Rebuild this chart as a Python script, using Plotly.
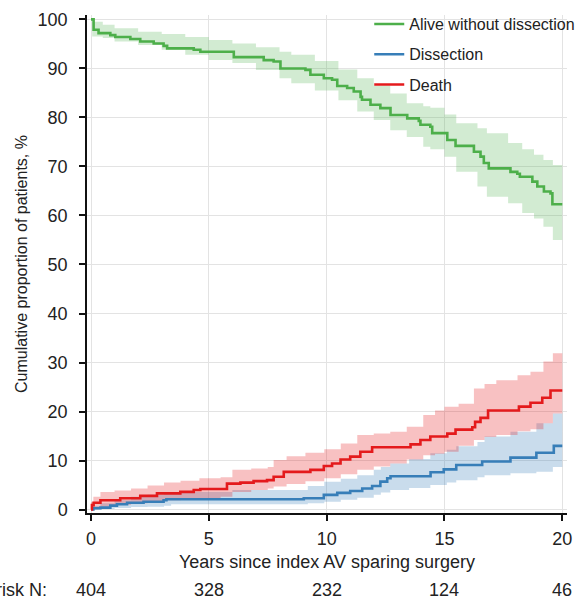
import plotly.graph_objects as go

# ---------------- data ----------------
green_t = [0, 0.11, 0.32, 0.82, 1.03, 1.67, 2.09, 2.66, 3.08, 3.23, 4.36, 4.64, 6.06, 7.33, 7.75, 8.04,
           9.1, 9.31, 9.88, 10.23, 10.45, 10.87, 11.15, 11.44, 11.5, 11.86, 12.28, 12.71, 13.42, 13.91,
           13.98, 14.4, 14.48, 15.12, 15.47, 16.25, 16.53, 16.67, 16.88, 17.8, 18.09, 18.2, 18.73, 18.94,
           19.22, 19.5, 19.58, 20.0]
green_v = [100, 97.9, 97.2, 96.8, 96.4, 96.0, 95.5, 95.1, 94.6, 94.1, 93.8, 93.4, 92.3, 91.7, 91.4, 90.0,
           89.7, 88.7, 88.0, 87.7, 86.4, 86.0, 85.3, 84.2, 83.6, 82.6, 81.9, 80.5, 79.8, 79.3,
           78.5, 78.1, 76.8, 75.4, 74.2, 73.0, 72.0, 70.7, 69.6, 68.9, 68.5, 67.9, 66.9, 65.9,
           64.9, 64.5, 62.3, 62.3]

green_ci_t = [0, 0.05, 0.5, 1, 2, 3, 4, 5, 6, 7, 8, 8.5, 9.5, 10.5, 11.3, 12, 12.7, 13.4, 14.1, 14.4,
              15, 15.5, 16.4, 16.8, 17.7, 18.3, 18.8, 19.2, 19.6, 20]
green_ci_hi = [100, 99.5, 98.9, 98.2, 97.5, 97.0, 96.4, 95.8, 95.1, 94.3, 93.4, 92.8, 91.5, 89.8, 88.0,
               86.5, 84.9, 82.9, 82.3, 82.0, 80.6, 78.8, 77.8, 76.8, 74.8, 73.5, 72.4, 71.3, 70.3, 70.3]
green_ci_lo = [100, 96.5, 96.2, 95.5, 94.8, 93.8, 92.8, 91.7, 91.1, 89.7, 88.0, 87.0, 85.5, 83.5, 81.2,
               79.5, 77.4, 76.0, 74.0, 73.5, 72.0, 68.9, 65.9, 63.8, 62.5, 60.5, 59.4, 57.7, 55.0, 55.0]

red_t = [0, 0.04, 0.11, 0.4, 1.24, 2.09, 2.8, 3.79, 4.36, 4.64, 5.77, 6.34, 6.9, 7.47, 7.75, 8.18,
         9.31, 9.88, 10.23, 10.59, 11.0, 11.43, 11.93, 13.56, 13.98, 14.4, 15.12, 15.47, 16.18, 16.3,
         16.53, 16.85, 18.16, 18.65, 19.15, 19.5, 20]
red_v = [0, 0.9, 1.4, 1.9, 2.3, 2.8, 3.3, 3.6, 4.0, 4.2, 5.3, 5.5, 5.8, 6.0, 6.7, 7.7,
         8.1, 8.9, 9.4, 10.2, 10.8, 11.8, 12.7, 13.3, 14.2, 14.9, 15.5, 16.3, 16.8, 17.9,
         18.7, 20.2, 21.0, 21.8, 22.8, 24.3, 24.3]

red_ci_t = [0, 0.1, 0.4, 1.0, 1.7, 2.4, 3.1, 3.8, 4.6, 5.5, 6.0, 6.8, 7.5, 7.75, 8.3, 9.1, 9.9, 10.6,
            11.3, 12.0, 12.7, 13.4, 14.1, 14.6, 15.0, 15.6, 16.25, 16.7, 17.2, 18.1, 18.65, 19.2, 19.6, 20]
red_ci_hi = [1.5, 2.6, 3.6, 3.9, 4.3, 4.9, 5.5, 5.9, 6.4, 6.6, 8.1, 8.4, 8.7, 10.1, 10.9, 11.6, 12.3,
             13.5, 15.2, 15.5, 15.9, 16.9, 19.3, 20.2, 21.0, 21.6, 24.7, 25.6, 26.4, 27.4, 28.1, 30.2,
             31.9, 31.9]
red_ci_lo = [0, 0.3, 0.6, 1.0, 1.3, 1.6, 1.9, 2.1, 2.3, 2.6, 3.6, 4.0, 4.3, 4.7, 5.2, 5.8, 6.4, 7.2,
             8.1, 8.8, 9.4, 10.2, 11.1, 11.4, 11.8, 13.0, 14.2, 14.8, 15.2, 16.0, 16.4, 17.6, 19.6, 19.6]

blue_t = [0, 0.1, 0.4, 0.82, 1.1, 1.53, 2.23, 3.08, 3.2, 9.03, 9.88, 10.45, 11.0, 11.51, 11.93, 12.28,
          12.57, 12.71, 14.41, 14.97, 15.5, 16.6, 17.8, 18.9, 19.64, 20]
blue_v = [0, 0.3, 0.4, 0.8, 1.1, 1.4, 1.6, 1.9, 2.1, 2.3, 3.0, 3.4, 3.8, 4.3, 4.8, 5.7,
          6.4, 6.8, 7.6, 8.2, 9.1, 9.8, 10.6, 11.6, 13.0, 13.0]

blue_ci_t = [0, 0.4, 1.0, 1.7, 2.4, 3.1, 3.4, 6.0, 8.5, 9.2, 9.9, 10.6, 11.3, 12.0, 12.3, 12.7, 13.5,
             14.4, 15.1, 15.5, 16.4, 16.7, 17.8, 18.9, 19.6, 20]
blue_ci_hi = [0.5, 1.3, 1.9, 2.6, 3.0, 3.3, 3.6, 4.0, 4.0, 4.8, 5.7, 6.3, 7.0, 8.1, 8.7, 9.4, 10.3,
              11.5, 12.2, 12.9, 13.8, 14.9, 15.9, 17.6, 19.6, 19.6]
blue_ci_lo = [0, 0.1, 0.3, 0.5, 0.6, 0.8, 1.1, 1.1, 1.1, 1.3, 1.6, 2.0, 2.4, 3.0, 3.5, 4.0, 4.4,
              5.0, 5.5, 6.0, 6.6, 7.0, 7.4, 7.7, 8.7, 8.7]

risk_years = [0, 5, 10, 15, 20]
risk_n = ["404", "328", "232", "124", "46"]

series_names = ["Alive without dissection", "Dissection", "Death"]
colors = ["#4daf4a", "#377eb8", "#e41a1c"]
band_colors = ["rgba(77,175,74,0.25)", "rgba(55,126,184,0.27)", "rgba(228,26,28,0.27)"]

FONT = "Liberation Sans, Arial, Helvetica, sans-serif"
TXT = "#222222"
TICK_SIZE = 18

fig = go.Figure()

bands = [(green_ci_t, green_ci_lo, green_ci_hi),
         (blue_ci_t, blue_ci_lo, blue_ci_hi),
         (red_ci_t, red_ci_lo, red_ci_hi)]
for (bt, lo, hi), bc in zip(bands, band_colors):
    fig.add_trace(go.Scatter(x=bt, y=lo, mode="lines", line=dict(width=0, shape="hv"),
                             showlegend=False, hoverinfo="skip"))
    fig.add_trace(go.Scatter(x=bt, y=hi, mode="lines", line=dict(width=0, shape="hv"),
                             fill="tonexty", fillcolor=bc, showlegend=False, hoverinfo="skip"))

lines = [(green_t, green_v), (blue_t, blue_v), (red_t, red_v)]
for i, ((lt, lv), name, c) in enumerate(zip(lines, series_names, colors)):
    fig.add_trace(go.Scatter(x=lt, y=lv, mode="lines", name=name, legendgroup=f"g{i}",
                             line=dict(color=c, width=2.6, shape="hv")))

annotations = []
for yr, n in zip(risk_years, risk_n):
    annotations.append(dict(x=yr, y=-0.154, xref="x", yref="paper", text=n, showarrow=False,
                            xanchor="center", yanchor="middle",
                            font=dict(size=TICK_SIZE, color=TXT, family=FONT)))
annotations.append(dict(x=-0.08, y=-0.154, xref="paper", yref="paper", text="At risk N:", showarrow=False,
                        xanchor="right", yanchor="middle", font=dict(size=TICK_SIZE, color=TXT, family=FONT)))

fig.update_layout(
    width=579, height=600,
    margin=dict(l=87, r=12, t=15, b=87, autoexpand=False),
    paper_bgcolor="white", plot_bgcolor="white",
    font=dict(family=FONT, size=TICK_SIZE, color=TXT),
    showlegend=True,
    legend=dict(x=0.588, y=1.016, xanchor="left", yanchor="top", bgcolor="rgba(0,0,0,0)",
                font=dict(size=16, color=TXT, family=FONT), tracegroupgap=6.5,
                itemwidth=30),
    annotations=annotations,
    xaxis=dict(range=[-0.17, 20.2], tickvals=[0, 5, 10, 15, 20], showgrid=True, gridcolor="#e3e3e3",
               gridwidth=1.2, zeroline=False, showline=True, linecolor="#111111", linewidth=1.5,
               ticks="outside", ticklen=6, tickwidth=1.5, tickcolor="#111111",
               tickfont=dict(size=TICK_SIZE, color=TXT), automargin=False, ticklabelstandoff=3,
               title=dict(text="Years since index AV sparing surgery", font=dict(size=TICK_SIZE, color=TXT),
                          standoff=7)),
    yaxis=dict(range=[-0.7, 100.9], tickvals=list(range(0, 101, 10)), showgrid=True, gridcolor="#e3e3e3",
               gridwidth=1.2, zeroline=False, showline=True, linecolor="#111111", linewidth=1.5,
               ticks="outside", ticklen=6, tickwidth=1.5, tickcolor="#111111",
               tickfont=dict(size=TICK_SIZE, color=TXT), automargin=False, ticklabelstandoff=8,
               title=dict(text="Cumulative proportion of patients, %", font=dict(size=16, color=TXT),
                          standoff=6)),
)

fig.write_html("out.html", config={"displayModeBar": False},
               post_script="document.body.style.margin='0';document.body.style.padding='0';")
